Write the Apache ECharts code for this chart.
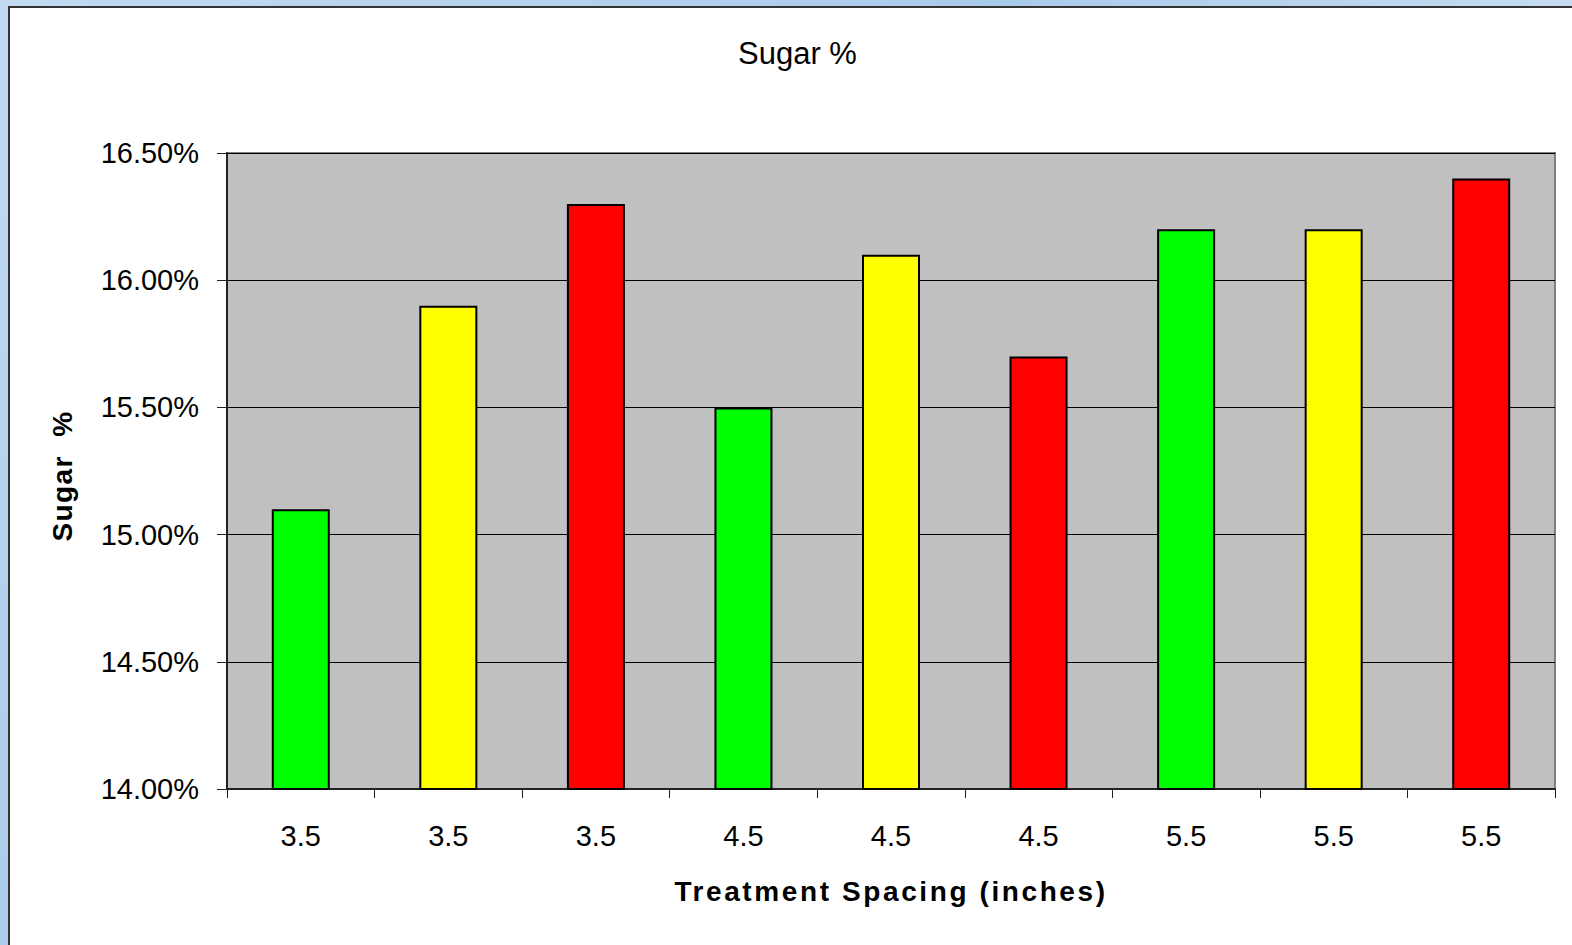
<!DOCTYPE html>
<html>
<head>
<meta charset="utf-8">
<script src="https://cdn.jsdelivr.net/npm/echarts@6/dist/echarts.min.js"></script>
<style>
  html, body { margin: 0; padding: 0; }
  body {
    width: 1572px; height: 945px; overflow: hidden;
    background: linear-gradient(135deg, #c2daf2 0%, #a9cbea 40%, #cfe2f5 70%, #afcfec 100%);
    position: relative;
  }
  #frame {
    position: absolute; left: 8px; top: 6px; right: -4px; bottom: -4px;
    background: #fff; border: 2px solid #333;
  }
  #chart { position: absolute; left: 0; top: 0; width: 1572px; height: 945px; }
</style>
</head>
<body>
<div id="frame"></div>
<div id="chart"></div>
<script>
// spacing (inches) per treatment
const categories = ["3.5", "3.5", "3.5", "4.5", "4.5", "4.5", "5.5", "5.5", "5.5"];
// sugar %
const sugar = [15.1, 15.9, 16.3, 15.5, 16.1, 15.7, 16.2, 16.2, 16.4];
const barColors = ["#00ff00", "#ffff00", "#ff0000", "#00ff00", "#ffff00", "#ff0000", "#00ff00", "#ffff00", "#ff0000"];
const yTicks = [14.0, 14.5, 15.0, 15.5, 16.0, 16.5];

const xName = "Treatment Spacing (inches)";
const yName = "Sugar  %";

const font = "'Liberation Sans', Arial, sans-serif";
const chartEl = document.getElementById("chart");
const chart = echarts.init(chartEl, null, { renderer: "svg" });

chart.setOption({
  animation: false,
  textStyle: { fontFamily: font },
  title: {
    text: "Sugar %",
    left: 733,
    top: 33,
    textStyle: { fontFamily: font, fontSize: 31, fontWeight: "normal", color: "#000" },
  },
  grid: {
    left: 227, right: 17, top: 153, bottom: 156,
    show: true,
    backgroundColor: "#c0c0c0",
    borderColor: "#808080",
    borderWidth: 2,
  },
  xAxis: {
    type: "category",
    data: categories,
    name: xName,
    nameLocation: "middle",
    nameGap: 88,
    nameTextStyle: { fontFamily: font, fontSize: 28, fontWeight: "bold", color: "#000" },
    axisLine: { lineStyle: { color: "#222", width: 2 } },
    axisTick: { show: true, inside: false, length: 9, lineStyle: { color: "#222", width: 1 } },
    axisLabel: { margin: 32, fontSize: 29, color: "#000", fontFamily: font },
  },
  yAxis: {
    type: "value",
    min: yTicks[0],
    max: yTicks[yTicks.length - 1],
    interval: 0.5,
    name: yName,
    nameLocation: "middle",
    nameGap: 151,
    nameTextStyle: {
      fontFamily: font, fontSize: 28, fontWeight: "bold", color: "#000",
      padding: [0, 10, 0, 0],
    },
    axisLine: { show: true, lineStyle: { color: "#222", width: 2 } },
    axisTick: { show: true, inside: false, length: 10, lineStyle: { color: "#222", width: 1 } },
    axisLabel: {
      margin: 28, fontSize: 29, color: "#000", fontFamily: font,
      padding: [3, 0, 0, 0],
      formatter: (v) => v.toFixed(2) + "%",
    },
    splitLine: { lineStyle: { color: "#000", width: 1 } },
  },
  series: [
    {
      type: "bar",
      barWidth: 58,
      data: sugar.map((v, i) => ({ value: v, itemStyle: { color: barColors[i] } })),
      itemStyle: { borderColor: "#000", borderWidth: 2 },
    },
  ],
});

// Excel spreads its axis titles a bit wider than the browser does
const spacing = { [xName]: "2.6px", [yName]: "1.4px" };
const spreadText = () => {
  chartEl.querySelectorAll("text").forEach((t) => {
    const s = spacing[t.textContent];
    if (s) {
      t.setAttribute("letter-spacing", s);
      t.style.whiteSpace = "pre";
    }
  });
};
spreadText();
chart.on("finished", spreadText);
setTimeout(spreadText, 50);
</script>
</body>
</html>
